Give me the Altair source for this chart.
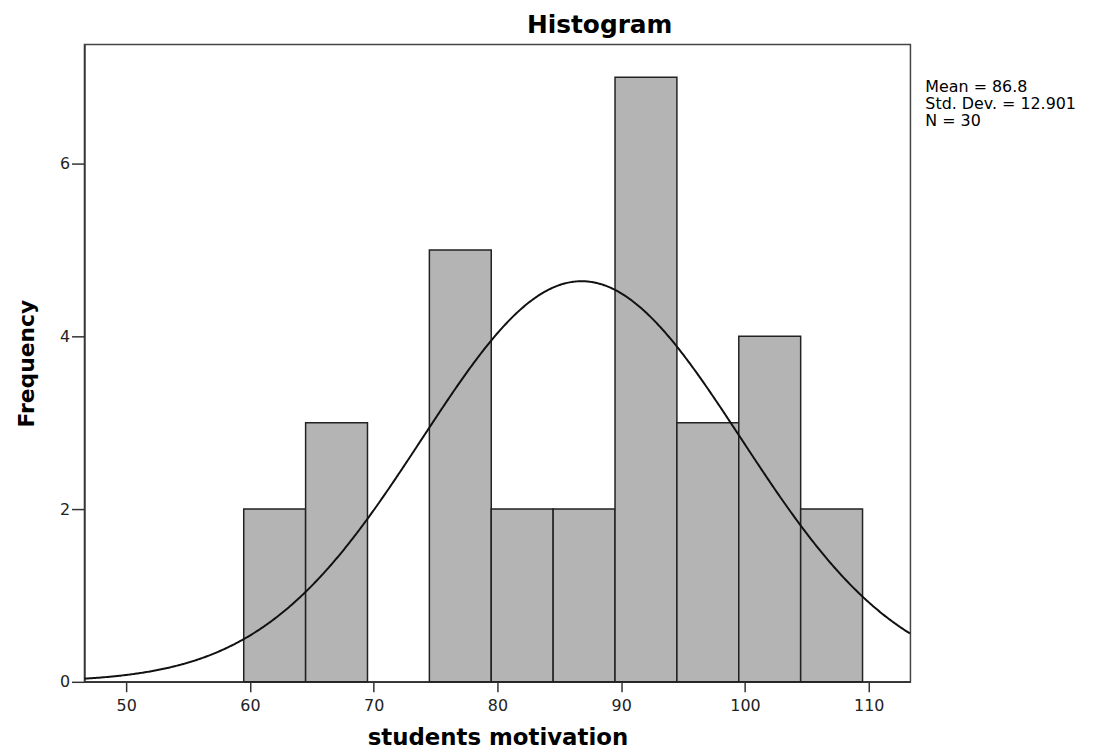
import altair as alt
import pandas as pd

# ---- data ----
bin_start = [59.5, 64.5, 69.5, 74.5, 79.5, 84.5, 89.5, 94.5, 99.5, 104.5]
bin_width = 5.0
counts = [2, 3, 0, 5, 2, 2, 7, 3, 4, 2]
x_ticks = [50, 60, 70, 80, 90, 100, 110]
y_ticks = [0, 2, 4, 6]
mean_val = 86.8
sd_val = 12.901
n_val = 30
stats_lines = ["Mean = 86.8", "Std. Dev. = 12.901", "N = 30"]
chart_title = "Histogram"
x_title = "students motivation"
y_title = "Frequency"

x_dom = [46.63, 113.37]
y_dom = [0, 7.38]

bars_df = pd.DataFrame({
    "start": bin_start,
    "end": [b + bin_width for b in bin_start],
    "count": counts,
})

FONT = "DejaVu Sans"
xs = alt.Scale(domain=x_dom, nice=False, zero=False)
ys = alt.Scale(domain=y_dom, nice=False, zero=True)

x_axis = alt.Axis(values=x_ticks, title=x_title, grid=False, labelFont=FONT,
                  labelFontSize=16, labelColor="#222", titleFont=FONT,
                  titleFontSize=23, titleFontWeight="bold", titleColor="#000",
                  titlePadding=13, tickSize=10, tickColor="#333", tickWidth=1.5,
                  domainColor="#333", domainWidth=1.5, labelPadding=6)
y_axis = alt.Axis(values=y_ticks, format="d", title=y_title, grid=False, labelFont=FONT,
                  labelFontSize=16, labelColor="#222", titleFont=FONT,
                  titleFontSize=22, titleFontWeight="bold", titleColor="#000",
                  titlePadding=21, tickSize=13, tickColor="#333", tickWidth=1.5,
                  domainColor="#333", domainWidth=1.5, labelPadding=2)

bars = alt.Chart(bars_df).transform_filter("datum.count > 0").mark_rect(
    fill="#b4b4b4", stroke="#222", strokeWidth=1.5
).encode(
    x=alt.X("start:Q", scale=xs, axis=x_axis),
    x2="end:Q",
    y=alt.Y("count:Q", scale=ys, axis=y_axis),
    y2=alt.datum(0),
)

curve = alt.Chart(alt.sequence(start=x_dom[0], stop=x_dom[1], step=0.1, as_="x")).transform_calculate(
    y=f"{n_val} * {bin_width} * exp(-0.5 * pow((datum.x - {mean_val}) / {sd_val}, 2)) / ({sd_val} * sqrt(2 * PI))"
).mark_line(color="#111", strokeWidth=2).encode(
    x=alt.X("x:Q", scale=xs),
    y=alt.Y("y:Q", scale=ys),
)

title_df = pd.DataFrame({"t": [chart_title]})
title_mark = alt.Chart(title_df).mark_text(
    font=FONT, fontSize=25, fontWeight="bold", color="#000",
    align="center", baseline="alphabetic"
).encode(text="t:N", x=alt.value(519), y=alt.value(-12))

stats_df = pd.DataFrame({"t": ["\n".join(stats_lines)]})
stats_mark = alt.Chart(stats_df).mark_text(
    font=FONT, fontSize=16, color="#000", align="left",
    baseline="top", lineBreak="\n", lineHeight=17
).encode(text="t:N", x=alt.value(847), y=alt.value(35))

chart = alt.layer(bars, curve, title_mark, stats_mark).properties(
    width=832, height=642,
    padding={"left": 77, "top": 34, "right": 200, "bottom": 72},
    autosize=alt.AutoSizeParams(type="none"),
).configure_view(stroke="#444", strokeWidth=1.5)

chart.save("out.html", embed_options={"renderer": "svg", "actions": False})
